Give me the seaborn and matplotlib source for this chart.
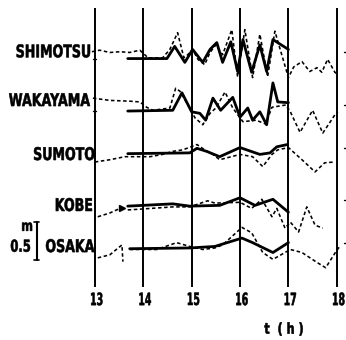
import numpy as np
import pandas as pd
import seaborn as sns
import matplotlib.pyplot as plt
from matplotlib.textpath import TextPath
from matplotlib.patches import PathPatch
from matplotlib.font_manager import FontProperties
from matplotlib.transforms import Affine2D, IdentityTransform

sns.set_theme(style="white")
plt.rcParams['font.family'] = ['DejaVu Sans']

# Stations, top to bottom, and where their zero line sits on the page (m)
stations = ["SHIMOTSU", "WAKAYAMA", "SUMOTO", "KOBE", "OSAKA"]
baselines = [3.70, 3.01, 2.45, 1.76, 1.20]
hours = [13, 14, 15, 16, 17, 18]

# observed records (dotted), time in hours, level in m
obs_t = {
    "SHIMOTSU": [12.94, 13.10, 13.31, 13.52, 13.72, 13.93, 14.10, 14.40, 14.55, 14.71, 14.84, 14.92,
                 15.02, 15.13, 15.27, 15.38, 15.50, 15.64, 15.83, 15.95, 16.10, 16.26, 16.41, 16.57,
                 16.72, 17.00, 17.11, 17.28, 17.44, 17.59, 17.69, 17.81, 17.96, 18.02],
    "WAKAYAMA": [12.96, 13.31, 13.72, 13.93, 14.07, 14.20, 14.55, 14.67, 14.76, 14.96, 15.07, 15.23,
                 15.38, 15.50, 15.69, 15.85, 16.06, 16.33, 16.53, 16.66, 16.95, 17.04, 17.24, 17.50,
                 17.71, 17.96, 18.02],
    "SUMOTO": [13.00, 13.31, 13.62, 13.93, 14.14, 14.40, 14.61, 14.82, 15.11, 15.27, 15.44, 15.58,
               16.00, 16.26, 16.47, 16.66, 16.78, 17.00, 17.28, 17.55, 17.75, 17.96],
    "KOBE": [13.68, 13.93, 14.61, 14.96, 15.33, 15.48, 16.00, 16.24, 16.45, 16.66, 16.76, 16.93,
             17.04, 17.21, 17.38, 17.55, 17.71],
    "OSAKA": [13.72, 14.28, 14.69, 14.96, 15.23, 15.48, 15.64, 16.04, 16.24, 16.47, 16.68, 17.04,
              17.28, 17.59, 17.77, 17.98, 18.06],
}
obs_h = {
    "SHIMOTSU": [0.09, 0.11, 0.08, 0.09, 0.08, 0.11, 0.01, 0.01, 0.12, 0.34, 0.01, 0.05,
                 0.12, -0.01, -0.08, 0.08, 0.18, 0.05, 0.38, -0.24, 0.38, -0.25, 0.32, -0.24,
                 0.36, -0.25, -0.11, -0.04, -0.17, -0.12, -0.18, -0.01, -0.18, -0.21],
    "WAKAYAMA": [0.17, 0.14, 0.13, 0.12, 0.05, 0.01, 0.04, 0.30, 0.26, 0.04, -0.09, -0.18,
                 -0.03, 0.04, 0.25, 0.04, -0.14, -0.12, -0.17, 0.05, 0.08, -0.01, -0.28, 0.01,
                 -0.29, -0.05, -0.01],
    "SUMOTO": [-0.11, -0.08, -0.04, -0.04, -0.04, -0.01, 0.03, 0.05, 0.12, 0.05, -0.01, -0.08,
               -0.01, -0.04, -0.17, -0.01, 0.05, 0.08, -0.08, -0.24, -0.12, -0.11],
    "KOBE": [-0.05, -0.04, -0.01, -0.01, 0.07, 0.04, 0.05, -0.03, 0.09, -0.14, -0.03, -0.29,
             -0.21, -0.34, -0.01, -0.25, -0.29],
    "OSAKA": [-0.01, -0.01, 0.08, 0.03, -0.01, 0.01, 0.05, 0.28, 0.21, -0.05, -0.14, -0.01,
              -0.05, -0.18, -0.25, -0.04, 0.03],
}
# early pieces of the KOBE and OSAKA records, before 14h
kobe_early_t = [13.06, 13.31, 13.52]
kobe_early_h = [-0.14, -0.09, -0.03]
osaka_early_t = [13.06, 13.31, 13.56, 13.58]
osaka_early_h = [-0.12, -0.08, 0.05, -0.17]

# computed waves (solid)
calc_t = {
    "SHIMOTSU": [13.68, 14.49, 14.65, 14.86, 15.02, 15.23, 15.38, 15.52, 15.64, 15.81, 15.95, 16.06,
                 16.24, 16.41, 16.55, 16.68, 17.00],
    "WAKAYAMA": [13.68, 14.61, 14.80, 15.00, 15.17, 15.29, 15.44, 15.60, 15.85, 16.00, 16.16, 16.26,
                 16.41, 16.55, 16.68, 16.78, 17.00],
    "SUMOTO": [13.68, 14.96, 15.11, 15.31, 15.58, 16.00, 16.41, 16.62, 16.76, 16.98],
    "KOBE": [13.68, 14.61, 14.96, 15.58, 16.00, 16.31, 16.68, 17.00],
    "OSAKA": [13.72, 14.96, 15.48, 16.04, 16.26, 16.68, 17.00],
}
calc_h = {
    "SHIMOTSU": [0.0, 0.0, 0.16, -0.05, 0.12, -0.05, 0.12, 0.21, -0.05, 0.22, -0.17, 0.25,
                 -0.18, 0.18, -0.17, 0.25, 0.12],
    "WAKAYAMA": [0.0, 0.01, 0.24, -0.01, -0.03, -0.12, 0.17, 0.01, 0.18, -0.08, 0.04, -0.12,
                 -0.01, -0.18, 0.37, 0.12, 0.11],
    "SUMOTO": [0.0, 0.01, 0.07, 0.03, -0.04, 0.08, -0.01, 0.01, 0.09, 0.12],
    "KOBE": [0.0, 0.03, 0.0, 0.01, 0.11, 0.01, 0.09, -0.08],
    "OSAKA": [0.0, 0.01, 0.03, 0.14, 0.08, -0.05, 0.08],
}

label_dy = [0.10, 0.15, 0.00, 0.02, 0.04]
label_right = [12.90, 12.90, 12.99, 12.94, 12.99]

fig = plt.figure(figsize=(3.46, 3.40), dpi=100)
ax = fig.add_axes([0, 0, 1, 1])
ax.set_xlim(11.04, 18.19)
ax.set_ylim(0, 4.47)
ax.axis("off")

bold = FontProperties(family="DejaVu Sans", weight="bold")


def narrow_text(x, y, s, px, sx, ha="center"):
    # bold text squeezed sideways, like the condensed lettering of the original
    tp = TextPath((0, 0), s, size=px, prop=bold)
    bb = tp.get_extents()
    ax_x = {"center": (bb.x0 + bb.x1) / 2, "right": bb.x1, "left": bb.x0}[ha]
    X, Y = ax.transData.transform((x, y))
    tr = Affine2D().translate(-ax_x, -(bb.y0 + bb.y1) / 2).scale(sx, 1).translate(X, Y)
    ax.add_patch(PathPatch(tp, transform=tr + IdentityTransform(), fc="black",
                           ec="black", lw=0.4))


# hour lines
ax.vlines(hours, 0.70, 4.37, color="black", lw=1.4)
for h in hours:
    narrow_text(h + 0.04, 0.54, str(h), 17, 0.55)
narrow_text(16.90, 0.145, "t  ( h )", 15, 0.75)

dash = (0, (2.2, 1.6))
for name, base, dy, xr in zip(stations, baselines, label_dy, label_right):
    o = pd.DataFrame({"t": obs_t[name], "z": np.array(obs_h[name]) + base})
    c = pd.DataFrame({"t": calc_t[name], "z": np.array(calc_h[name]) + base})
    sns.lineplot(data=o, x="t", y="z", ax=ax, color="black", lw=1.15, linestyle=dash,
                 sort=False, estimator=None)
    sns.lineplot(data=c, x="t", y="z", ax=ax, color="black", lw=2.0,
                 sort=False, estimator=None)
    narrow_text(xr, base + dy, name, 17.5, 0.72, ha="right")
    # right edge mark
    ax.plot([18.14, 18.19], [base + 0.08, base + 0.08], color="black", lw=1)

for tt, hh, base in [(kobe_early_t, kobe_early_h, baselines[3]),
                     (osaka_early_t, osaka_early_h, baselines[4])]:
    sns.lineplot(x=tt, y=np.array(hh) + base, ax=ax, color="black", lw=1.15,
                 linestyle=dash, sort=False, estimator=None)
ax.plot(kobe_early_t[-1] + 0.04, kobe_early_h[-1] + baselines[3], marker=">",
        color="black", ms=4)

# small marks on the 13h line
for base in baselines[:2]:
    ax.plot([12.97, 13.03], [base, base], color="black", lw=1)

# 0.5 m scale
ax.plot([11.80, 11.80], [1.05, 1.55], color="black", lw=1.5)
ax.plot([11.75, 11.85], [1.55, 1.55], color="black", lw=1.2)
ax.plot([11.75, 11.85], [1.05, 1.05], color="black", lw=1.2)
narrow_text(11.60, 1.49, "m", 15, 0.75)
narrow_text(11.66, 1.24, "0.5", 16.5, 0.7, ha="right")

fig.savefig("out.png", dpi=100)
